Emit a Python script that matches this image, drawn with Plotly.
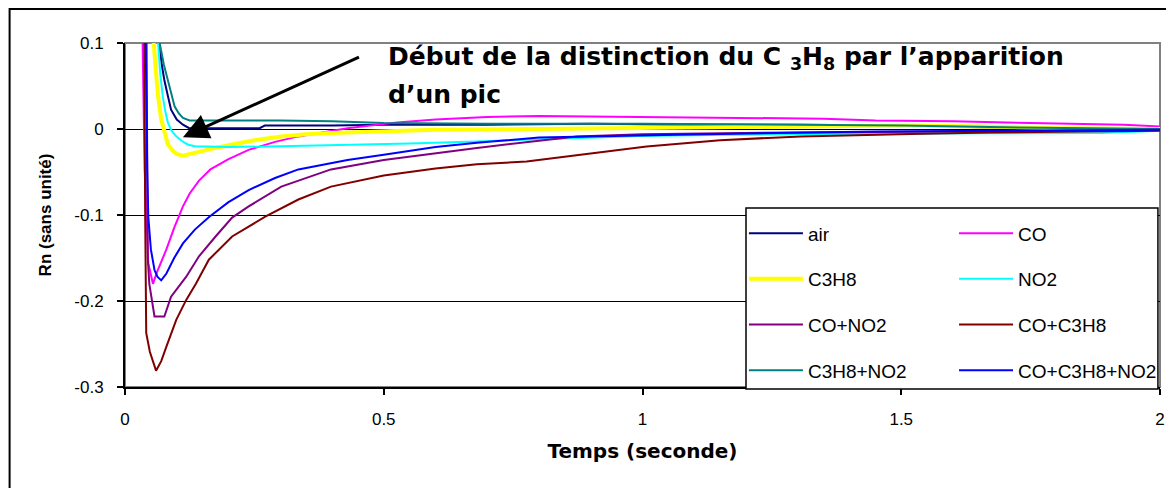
import plotly.graph_objects as go

# ---------------- data ----------------
air_t = [0.060, 0.066, 0.071, 0.076, 0.083, 0.089, 0.100, 0.112, 0.124, 0.18, 0.26, 0.27, 0.40, 0.50, 0.70, 0.90, 1.10, 1.30, 1.50, 1.65, 1.80, 2.00]
air_v = [0.40, 0.10, 0.075, 0.057, 0.038, 0.0225, 0.011, 0.005, 0.001, 0.001, 0.001, 0.004, 0.004, 0.005, 0.005, 0.006, 0.005, 0.005, 0.004, 0.002, 0.001, 0.0]

co_t = [0.030, 0.034, 0.038, 0.045, 0.054, 0.062, 0.080, 0.095, 0.112, 0.125, 0.143, 0.165, 0.20, 0.24, 0.29, 0.335, 0.43, 0.526, 0.60, 0.70, 0.80, 1.00, 1.20, 1.35, 1.45, 1.60, 1.75, 1.93, 2.00]
co_v = [0.50, 0.10, -0.047, -0.156, -0.180, -0.166, -0.140, -0.115, -0.090, -0.075, -0.060, -0.047, -0.035, -0.024, -0.015, -0.0086, 0.001, 0.0077, 0.011, 0.014, 0.015, 0.014, 0.013, 0.012, 0.010, 0.009, 0.007, 0.005, 0.003]

c3h8_t = [0.050, 0.0555, 0.060, 0.064, 0.070, 0.077, 0.083, 0.092, 0.100, 0.112, 0.125, 0.143, 0.175, 0.207, 0.25, 0.302, 0.35, 0.398, 0.488, 0.60, 0.80, 0.97, 1.20, 1.30, 1.50, 1.65, 1.80, 2.00]
c3h8_v = [0.50, 0.10, 0.065, 0.038, 0.011, -0.005, -0.018, -0.025, -0.029, -0.031, -0.029, -0.026, -0.022, -0.018, -0.013, -0.0086, -0.006, -0.0047, -0.003, -0.001, 0.000, 0.001, 0.002, 0.003, 0.004, 0.003, 0.001, 0.0]

no2_t = [0.058, 0.064, 0.068, 0.073, 0.078, 0.083, 0.090, 0.099, 0.110, 0.121, 0.135, 0.20, 0.30, 0.40, 0.488, 0.55, 0.68, 0.80, 0.873, 1.00, 1.162, 1.30, 1.451, 1.65, 1.885, 2.00]
no2_v = [0.50, 0.10, 0.065, 0.038, 0.020, 0.007, -0.002, -0.0086, -0.014, -0.018, -0.020, -0.021, -0.020, -0.019, -0.018, -0.017, -0.0144, -0.012, -0.0105, -0.008, -0.0066, -0.006, -0.0058, -0.005, -0.0047, -0.002]

co_no2_t = [0.038, 0.042, 0.044, 0.047, 0.057, 0.076, 0.089, 0.118, 0.143, 0.175, 0.207, 0.239, 0.302, 0.398, 0.50, 0.68, 0.873, 1.00, 1.30, 1.60, 2.00]
co_no2_v = [0.50, 0.10, -0.150, -0.180, -0.218, -0.218, -0.195, -0.172, -0.148, -0.125, -0.103, -0.090, -0.067, -0.047, -0.036, -0.022, -0.0086, -0.006, -0.004, -0.003, -0.001]

co_c3h8_t = [0.034, 0.037, 0.039, 0.041, 0.048, 0.060, 0.070, 0.080, 0.099, 0.118, 0.137, 0.162, 0.207, 0.271, 0.335, 0.398, 0.50, 0.60, 0.68, 0.776, 0.88, 1.008, 1.15, 1.306, 1.518, 1.673, 1.85, 2.00]
co_c3h8_v = [0.50, 0.10, -0.100, -0.237, -0.259, -0.281, -0.270, -0.253, -0.222, -0.199, -0.180, -0.152, -0.125, -0.102, -0.082, -0.067, -0.054, -0.046, -0.041, -0.0378, -0.030, -0.0203, -0.013, -0.0086, -0.0058, -0.004, -0.003, -0.002]

c3h8_no2_t = [0.062, 0.067, 0.075, 0.083, 0.090, 0.096, 0.104, 0.112, 0.125, 0.30, 0.40, 0.50, 0.70, 1.00, 1.30, 1.50, 1.70, 2.00]
c3h8_no2_v = [0.50, 0.10, 0.075, 0.057, 0.038, 0.026, 0.018, 0.0128, 0.010, 0.010, 0.009, 0.007, 0.006, 0.006, 0.005, 0.004, 0.002, 0.0]

all3_t = [0.036, 0.040, 0.043, 0.045, 0.050, 0.057, 0.063, 0.070, 0.080, 0.095, 0.112, 0.135, 0.163, 0.20, 0.239, 0.29, 0.335, 0.43, 0.50, 0.60, 0.68, 0.80, 1.065, 1.25, 1.451, 1.70, 2.00]
all3_v = [0.50, 0.10, -0.050, -0.102, -0.140, -0.164, -0.172, -0.176, -0.168, -0.150, -0.133, -0.117, -0.102, -0.085, -0.071, -0.057, -0.047, -0.036, -0.030, -0.021, -0.016, -0.010, -0.0066, -0.005, -0.003, -0.002, -0.001]

x_ticks = [0, 0.5, 1, 1.5, 2]
x_ticktext = ["0", "0.5", "1", "1.5", "2"]
y_ticks = [0.1, 0, -0.1, -0.2, -0.3]
y_ticktext = ["0.1", "0", "-0.1", "-0.2", "-0.3"]

series = [
    ("air", air_t, air_v, "#000080", 2, "legend"),
    ("CO", co_t, co_v, "#FF00FF", 2, "legend2"),
    ("C3H8", c3h8_t, c3h8_v, "#FFFF00", 4, "legend"),
    ("NO2", no2_t, no2_v, "#00FFFF", 2, "legend2"),
    ("CO+NO2", co_no2_t, co_no2_v, "#800080", 2, "legend"),
    ("CO+C3H8", co_c3h8_t, co_c3h8_v, "#800000", 2, "legend2"),
    ("C3H8+NO2", c3h8_no2_t, c3h8_no2_v, "#008080", 2, "legend"),
    ("CO+C3H8+NO2", all3_t, all3_v, "#0000FF", 2, "legend2"),
]

FONT = "Arial, Liberation Sans, sans-serif"
WIDE = "DejaVu Sans, Arial, sans-serif"

fig = go.Figure()
for name, t, v, col, w, leg in series:
    fig.add_trace(go.Scatter(
        x=t, y=v, mode="lines", name=name, legend=leg, legendgroup=name,
        line=dict(color=col, width=w),
    ))

# outer frame + plot-area border + legend box
fig.add_shape(type="rect", xref="paper", yref="paper", x0=-0.1115, x1=1.02, y0=-0.32, y1=1.099,
              line=dict(color="black", width=2), fillcolor="rgba(0,0,0,0)", layer="below")
fig.add_shape(type="rect", xref="paper", yref="paper", x0=0, x1=1, y0=0, y1=1,
              line=dict(color="#808080", width=2), fillcolor="rgba(0,0,0,0)", layer="between")
fig.add_shape(type="rect", xref="paper", yref="paper", x0=0.6, x1=0.998, y0=-0.006, y1=0.52,
              line=dict(color="black", width=1.5), fillcolor="white", layer="above")

# arrow
fig.add_annotation(x=0.112, y=-0.0095, ax=0.455, ay=0.0843, xref="x", yref="y", axref="x", ayref="y",
                   text="", showarrow=True, arrowhead=2, arrowsize=1.7, arrowwidth=3, arrowcolor="black")
fig.add_annotation(x=0.252, y=0.956, xref="paper", yref="paper", xanchor="left", yanchor="middle",
                   text="<b>Début de la distinction du C <sub>3</sub>H<sub>8</sub> par l’apparition</b>",
                   showarrow=False, font=dict(family=WIDE, size=25, color="black"))
fig.add_annotation(x=0.252, y=0.849, xref="paper", yref="paper", xanchor="left", yanchor="middle",
                   text="<b>d’un pic</b>",
                   showarrow=False, font=dict(family=WIDE, size=25, color="black"))

fig.update_layout(
    width=1166, height=480,
    margin=dict(l=117, r=9, t=35, b=101),
    paper_bgcolor="white", plot_bgcolor="white",
    font=dict(family=FONT, size=17, color="black"),
    showlegend=True,
    legend=dict(x=0.598, y=0.502, xanchor="left", yanchor="top", bgcolor="rgba(0,0,0,0)",
                font=dict(family=FONT, size=19), tracegroupgap=18, traceorder="grouped",
                itemwidth=54),
    legend2=dict(x=0.801, y=0.502, xanchor="left", yanchor="top", bgcolor="rgba(0,0,0,0)",
                 font=dict(family=FONT, size=19), tracegroupgap=18, traceorder="grouped",
                 itemwidth=54),
    xaxis=dict(range=[0, 2], tickvals=x_ticks, ticktext=x_ticktext, showgrid=False,
               showline=True, linecolor="black", linewidth=2, ticks="outside", ticklen=6,
               tickcolor="black", tickwidth=1.5, zeroline=False, ticklabelstandoff=10,
               tickfont=dict(size=17),
               title=dict(text="<b>Temps (seconde)</b>", font=dict(family=WIDE, size=20), standoff=16)),
    yaxis=dict(range=[-0.3, 0.1], tickvals=y_ticks, ticktext=y_ticktext, showgrid=True,
               gridcolor="black", gridwidth=1, showline=True, linecolor="black", linewidth=2,
               ticks="outside", ticklen=6, tickcolor="black", tickwidth=1.5, zeroline=False,
               ticklabelstandoff=10, tickfont=dict(size=17),
               title=dict(text="<b>Rn (sans unité)</b>", font=dict(size=17), standoff=18)),
)

fig.write_html("out.html")
